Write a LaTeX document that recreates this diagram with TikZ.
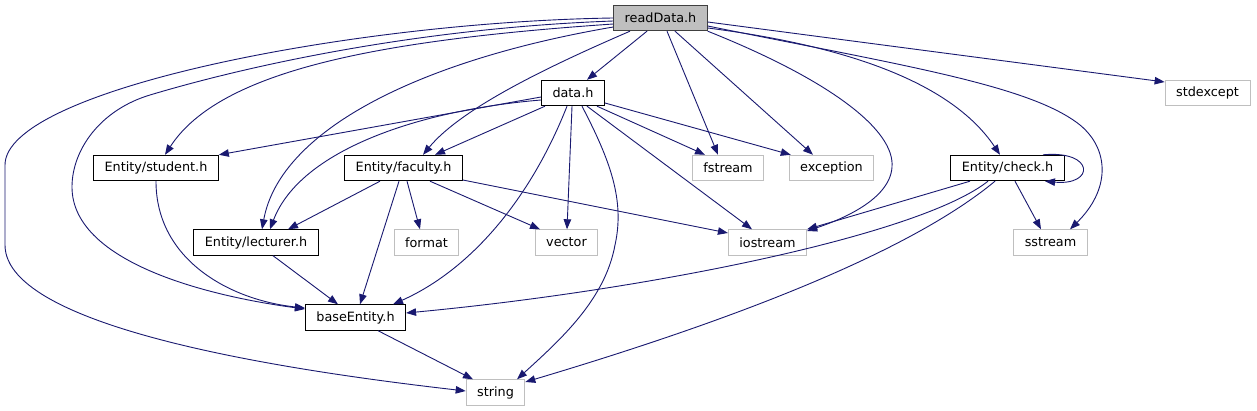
\documentclass[tikz,border=0pt]{standalone}
\usepackage{fontspec}
\setmainfont{DejaVu Sans}
\usetikzlibrary{arrows.meta}
\definecolor{edgeblue}{RGB}{25,25,112}
\definecolor{ghost}{RGB}{191,191,191}

\begin{document}
\begin{tikzpicture}[x=1pt,y=-1pt,
    filebox/.style={draw=black, fill=white, line width=0.9pt,
                    inner xsep=11pt, inner ysep=0pt, minimum height=25.5pt,
                    font=\fontsize{12.8}{15}\selectfont},
    extbox/.style={filebox, draw=ghost},
    mainbox/.style={filebox, fill=ghost, draw=black!75},
    dep/.style={draw=edgeblue, line width=0.9pt,
                -{Triangle[length=10pt,width=7.5pt]}}]
  \useasboundingbox[fill=white] (0,0) rectangle (1257,411);

  % headers of the project
  \node[mainbox] (rd) at (660.5,18) {readData.h};
  \node[filebox] (data) at (573,93) {data.h};
  \node[filebox] (student) at (156,168) {Entity/student.h};
  \node[filebox] (faculty) at (403.5,168) {Entity/faculty.h};
  \node[filebox] (check) at (1007.5,168) {Entity/check.h};
  \node[filebox] (lecturer) at (256,242.5) {Entity/lecturer.h};
  \node[filebox] (base) at (355.5,317.5) {baseEntity.h};

  % standard headers
  \foreach \nm/\px/\py in {stdexcept/1207.5/93, fstream/728/168,
      exception/831.5/168, format/426.5/242.5, vector/566.5/242.5,
      iostream/767.5/242.5, sstream/1050.5/242.5, string/495.5/392.5}{
    \node[extbox] (\nm) at (\px,\py) {\nm};
  }

  % readData.h
  \draw[dep] ([xshift=-13.5pt]rd.south) -- ([xshift=14pt]data.north);
  \draw[dep] ([xshift=6.5pt]rd.south) -- ([xshift=-10pt]fstream.north);
  \draw[dep] ([xshift=14.5pt]rd.south) -- ([xshift=-18.5pt]exception.north);
  \draw[dep] (rd.south east) .. controls (830,80) and (895,130) .. (892,167)
    .. controls (890,200) and (840,220) .. ([yshift=11.5pt]iostream.east);
  \draw[dep] ([yshift=-10pt]rd.east) .. controls (840,45) and (950,80)
    .. ([xshift=-7.5pt]check.north);
  \draw[dep] ([yshift=-8pt]rd.east) .. controls (900,65) and (1030,85) .. (1080,125)
    .. controls (1110,150) and (1110,190) .. ([xshift=19.5pt]sstream.north);
  \draw[dep] ([yshift=-4pt]rd.east) -- ([yshift=11pt]stdexcept.west);
  \draw[dep] ([xshift=-30.5pt]rd.south) .. controls (540,70) and (460,110)
    .. ([xshift=19.5pt]faculty.north);
  \draw[dep] ([yshift=-9pt]rd.west) .. controls (420,60) and (280,130)
    .. ([xshift=6pt]lecturer.north);
  \draw[dep] ([yshift=-6pt]rd.west) .. controls (380,40) and (220,70)
    .. ([xshift=9pt]student.north);
  \draw[dep] ([yshift=-3pt]rd.west) .. controls (420,28) and (250,65) .. (150,95)
    .. controls (100,110) and (72,150) .. (72,187)
    .. controls (72,260) and (200,295) .. ([yshift=8.5pt]base.west);
  \draw[dep] (rd.west) .. controls (350,22) and (5,90) .. (5,165) -- (5,245)
    .. controls (5,330) and (300,372) .. ([yshift=1.5pt]string.west);

  % data.h
  \draw[dep] ([yshift=-4pt]data.west) -- (student.north east);
  \draw[dep] ([yshift=-7pt]data.west) .. controls (420,110) and (300,150)
    .. ([xshift=14pt]lecturer.north);
  \draw[dep] ([xshift=-28pt]data.south) -- ([xshift=31.5pt]faculty.north);
  \draw[dep] ([xshift=-1pt]data.south) -- ([xshift=0.5pt]vector.north);
  \draw[dep] ([xshift=9pt]data.south) .. controls (610,160) and (625,200) .. (615,245)
    .. controls (605,300) and (560,340) .. ([xshift=21.5pt]string.north);
  \draw[dep] ([xshift=-6pt]data.south) .. controls (530,200) and (470,270)
    .. ([xshift=37.5pt]base.north);
  \draw[dep] ([xshift=14pt]data.south) -- ([xshift=-15.5pt]iostream.north);
  \draw[dep] ([xshift=24pt]data.south) -- ([xshift=-23pt]fstream.north);
  \draw[dep] ([yshift=-10pt]data.east) -- ([xshift=2pt]exception.north west);

  % Entity/faculty.h
  \draw[dep] ([xshift=-23.5pt]faculty.south) -- ([xshift=32pt]lecturer.north);
  \draw[dep] ([xshift=3.5pt]faculty.south) -- ([xshift=-6.5pt]format.north);
  \draw[dep] ([xshift=26.5pt]faculty.south) -- ([xshift=-26.5pt]vector.north);
  \draw[dep] ([xshift=-4.5pt]faculty.south) -- ([xshift=4.5pt]base.north);
  \draw[dep] ([yshift=-12pt]faculty.east) -- ([yshift=9.5pt]iostream.west);

  % student, lecturer, baseEntity
  \draw[dep] (student.south) .. controls (156,260) and (230,300)
    .. ([yshift=9.5pt]base.west);
  \draw[dep] ([xshift=17pt]lecturer.south) -- ([xshift=-17.5pt]base.north);
  \draw[dep] ([xshift=22.5pt]base.south) -- ([xshift=-22.5pt]string.north);

  % Entity/check.h
  \draw[dep] ([xshift=35.5pt]check.north) .. controls (1095,150) and (1095,186)
    .. ([xshift=37.5pt]check.south);
  \draw[dep] ([xshift=7.5pt]check.south) -- ([xshift=-9.5pt]sstream.north);
  \draw[dep] ([xshift=-37.5pt]check.south) -- (iostream.north east);
  \draw[dep] ([xshift=-19.5pt]check.south) .. controls (920,235) and (650,290)
    .. ([yshift=4.5pt]base.east);
  \draw[dep] ([xshift=-12.5pt]check.south) .. controls (900,260) and (700,330)
    .. ([yshift=10.5pt]string.east);
\end{tikzpicture}
\end{document}
